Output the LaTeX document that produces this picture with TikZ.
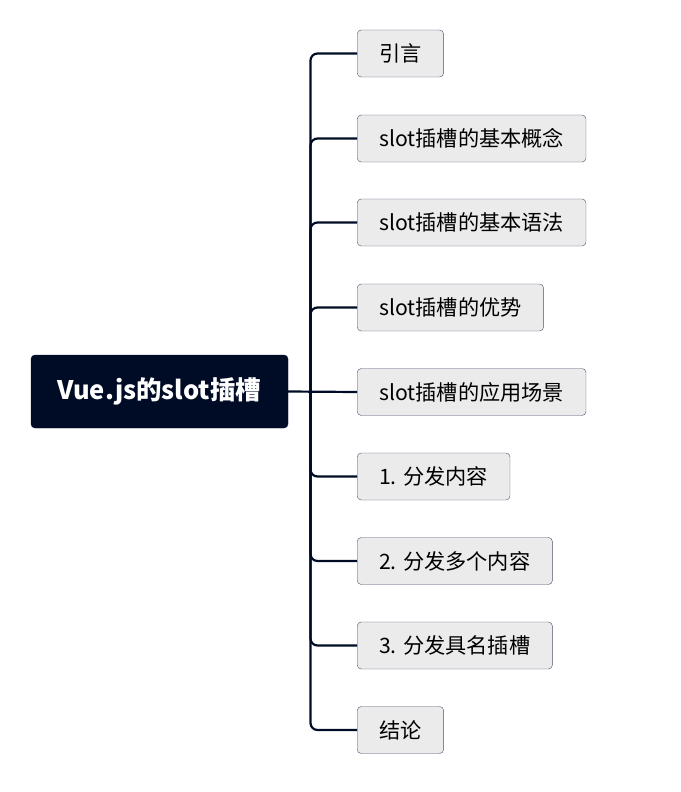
\documentclass[tikz,border=0pt]{standalone}
\usepackage{fontspec}
\setmainfont{Noto Sans CJK SC}
\definecolor{navy}{HTML}{000C26}
\definecolor{boxgray}{HTML}{EBEBEB}
\definecolor{boxline}{HTML}{4A5068}
\tikzset{
   topic/.style={draw=navy, fill=navy, text=white, rounded corners=4pt, minimum width=257pt,
      minimum height=73pt, font=\fontsize{25.5}{30}\selectfont\bfseries},
   sub/.style={draw=boxline, fill=boxgray, rounded corners=4pt, anchor=west, inner xsep=22pt,
      minimum height=47pt, font=\fontsize{21.2}{25}\selectfont, text=black},
   branch/.style={draw=navy, line width=2.2pt, rounded corners=7pt}
}
\begin{document}
\begin{tikzpicture}[x=1pt, y=-1pt]
   \useasboundingbox (0,0) rectangle (680,792);
   \node[topic] (root) at (159.5,391.5) {Vue.js的slot插槽};
   \coordinate (hub) at (310.5,391.5);

   \node[sub] (c1) at (357,53.5) {引言};
   \node[sub] (c2) at (357,138.5) {slot插槽的基本概念};
   \node[sub] (c3) at (357,222.5) {slot插槽的基本语法};
   \node[sub] (c4) at (357,307.5) {slot插槽的优势};
   \node[sub] (c5) at (357,392) {slot插槽的应用场景};
   \node[sub] (c6) at (357,476.5) {1. 分发内容};
   \node[sub] (c7) at (357,561) {2. 分发多个内容};
   \node[sub] (c8) at (357,645.5) {3. 分发具名插槽};
   \node[sub] (c9) at (357,730) {结论};

   \foreach \c in {c1,c2,c3,c4,c6,c7,c8,c9}
      \draw[branch] (hub) |- (\c.west);
   \draw[branch] (root.east) -- (c5.west);
\end{tikzpicture}
\end{document}
